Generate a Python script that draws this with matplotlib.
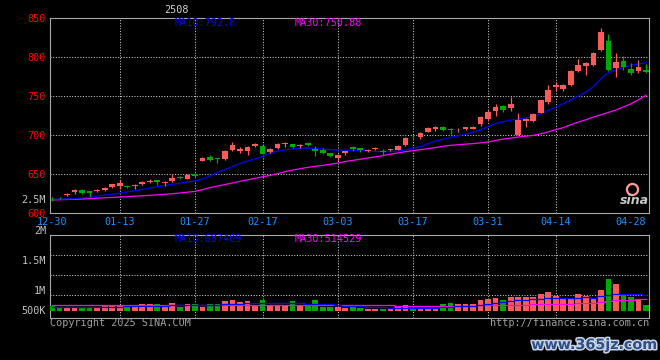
import matplotlib
matplotlib.use('Agg')
import matplotlib.pyplot as plt
import matplotlib.patheffects as pe
from matplotlib.lines import Line2D

# ---------------- data ----------------
opens = [618.0, 619.5, 623.0, 626.4, 629.8, 627.7, 627.7, 629.0, 633.7, 634.5,
         635.0, 634.1, 637.1, 639.7, 641.8, 638.4, 640.5, 646.5, 644.0, 649.5,
         667.1, 672.2, 670.9, 669.6, 681.2, 679.4, 679.4, 685.4, 686.3, 678.6,
         683.7, 688.0, 688.0, 685.9, 689.3, 682.4, 681.2, 676.5, 670.9, 676.5,
         685.0, 683.3, 679.0, 681.6, 679.9, 680.3, 681.2, 686.7, 697.8, 697.0,
         704.2, 707.2, 710.7, 707.7, 707.3, 707.3, 708.1, 713.7, 721.1, 731.3,
         737.5, 735.0, 700.3, 717.5, 718.0, 728.6, 742.7, 761.9, 758.5, 763.6,
         782.4, 788.0, 790.1, 809.3, 820.9, 786.3, 795.2, 784.5, 782.4, 783.0]
highs = [620.0, 620.9, 626.0, 630.3, 630.2, 628.6, 630.3, 632.8, 637.5, 641.8,
         635.5, 637.5, 640.5, 643.9, 641.8, 640.5, 649.5, 647.8, 650.0, 650.8,
         671.8, 674.7, 671.0, 680.3, 691.0, 684.6, 686.3, 689.3, 686.5, 683.0,
         689.7, 690.6, 688.8, 688.0, 689.7, 685.9, 682.9, 677.0, 676.0, 679.9,
         685.5, 683.7, 681.6, 684.2, 682.0, 682.0, 687.0, 697.5, 700.0, 703.4,
         710.7, 711.9, 711.5, 709.4, 708.5, 710.2, 712.0, 723.9, 732.0, 740.1,
         738.4, 748.6, 728.1, 721.7, 728.5, 745.5, 764.5, 767.5, 765.7, 783.0,
         797.4, 793.1, 806.8, 837.5, 829.9, 805.5, 801.6, 792.2, 795.7, 791.4]
lows = [615.0, 617.9, 621.7, 623.9, 624.8, 620.9, 626.9, 628.6, 632.0, 631.1,
        632.0, 631.1, 636.2, 638.8, 636.2, 635.0, 640.0, 644.0, 643.0, 645.7,
        666.2, 667.0, 664.1, 668.3, 679.0, 676.9, 674.3, 685.0, 675.5, 677.0,
        682.4, 684.6, 683.7, 683.3, 686.3, 673.5, 676.0, 672.0, 666.2, 674.7,
        679.9, 677.7, 678.0, 681.0, 674.8, 679.9, 680.5, 686.0, 694.0, 695.3,
        703.4, 705.1, 705.5, 700.8, 703.4, 707.0, 707.2, 711.1, 719.0, 725.0,
        729.8, 731.1, 700.0, 709.8, 716.5, 728.0, 740.1, 756.8, 756.8, 762.5,
        780.3, 777.3, 788.0, 807.6, 782.4, 773.9, 782.8, 776.4, 779.4, 780.0]
closes = [617.5, 618.8, 624.5, 629.0, 625.1, 625.6, 629.4, 632.4, 636.7, 638.8,
          633.3, 636.3, 639.7, 641.4, 639.3, 640.1, 645.2, 644.8, 649.1, 647.4,
          670.9, 667.5, 669.2, 679.0, 686.7, 682.0, 685.0, 688.8, 676.0, 682.4,
          688.0, 690.1, 684.1, 687.1, 686.7, 679.0, 676.9, 672.6, 674.7, 679.0,
          682.5, 681.2, 681.2, 683.7, 678.6, 681.6, 686.3, 696.6, 697.0, 703.0,
          709.4, 710.7, 706.0, 706.4, 708.1, 709.8, 710.7, 723.1, 729.8, 736.0,
          732.4, 740.1, 718.7, 720.4, 727.0, 745.2, 758.0, 764.5, 764.5, 782.4,
          790.1, 791.8, 805.5, 832.4, 783.7, 793.1, 786.7, 779.4, 786.7, 780.8]
ma10 = [618, 618, 618, 618.5, 619.5, 620.5, 621.7, 623, 624.3, 625.5,
        627, 628.5, 630.3, 632, 633.7, 635.2, 636.7, 638.2, 639.7, 641,
        643.5, 647.5, 652, 655.5, 659.5, 663.5, 666.5, 669.5, 672.5, 676.5,
        679.5, 681, 682.2, 683, 683.3, 683, 682, 681.3, 680.8, 680.5,
        680.3, 680, 679.5, 678.8, 678.6, 678.6, 679.5, 680.8, 683, 685,
        689, 692, 694.5, 697, 699, 701, 703.5, 706.5, 711, 714.5,
        717, 719, 720.5, 722, 723.5, 727, 731.5, 735.8, 740, 745,
        750, 755, 762, 772, 780, 783, 787, 789.5, 791, 792.8]
ma30 = [616.6, 617, 617.3, 617.6, 617.9, 618.4, 619, 619.5, 620, 620.5,
        621, 621.6, 622.1, 622.7, 623.3, 624, 624.7, 625.7, 626.7, 627.7,
        629.9, 632.5, 634.5, 636.5, 638.5, 640.6, 642.5, 644.4, 646.5, 648.2,
        650.5, 653, 655, 656.8, 658.5, 659.8, 661, 662.5, 664, 666,
        667.5, 669, 670.5, 672, 673.5, 675.5, 677, 678.6, 680, 681.2,
        682.5, 684, 685.5, 686.7, 687.6, 688.3, 689, 690, 691, 693,
        694.8, 696, 697.4, 698.5, 699.5, 701.5, 704, 706.8, 709.5, 713.2,
        716.5, 719.6, 723, 726, 729, 732, 736, 740, 745.2, 750.88]
volumes = [225, 105, 105, 105, 150, 105, 150, 195, 225, 255,
           150, 255, 300, 300, 300, 255, 345, 150, 300, 300,
           150, 300, 300, 435, 480, 390, 420, 255, 480, 255,
           255, 255, 435, 255, 255, 480, 180, 180, 180, 135,
           200, 135, 90, 90, 90, 90, 150, 255, 135, 135,
           90, 90, 315, 345, 315, 300, 300, 480, 540, 570,
           480, 615, 615, 615, 615, 750, 840, 660, 570, 570,
           750, 660, 570, 930, 1425, 1200, 750, 615, 510, 255]
vol_ma10 = [180, 180, 175, 170, 170, 165, 165, 170, 175, 185,
            190, 195, 205, 215, 225, 230, 240, 250, 255, 260,
            255, 265, 275, 290, 305, 315, 325, 330, 340, 345,
            340, 330, 330, 325, 320, 320, 300, 280, 265, 210,
            210, 200, 180, 160, 150, 135, 120, 120, 130, 135,
            135, 140, 160, 180, 190, 200, 220, 250, 290, 330,
            400, 440, 480, 500, 520, 540, 565, 570, 570, 570,
            585, 600, 580, 640, 700, 750, 745, 740, 735, 687.409]
vol_ma30 = [240, 240, 240, 240, 240, 240, 240, 240, 240, 240,
            235, 235, 235, 235, 235, 235, 235, 235, 235, 235,
            235, 240, 245, 250, 255, 260, 262, 265, 268, 270,
            270, 272, 273, 275, 275, 275, 272, 270, 265, 260,
            258, 255, 252, 250, 248, 245, 232, 215, 210, 205,
            200, 200, 200, 205, 210, 225, 232, 240, 250, 255,
            262, 268, 272, 276, 282, 290, 295, 300, 305, 315,
            340, 350, 360, 400, 430, 465, 480, 495, 505, 514.529]
tick_idx = [0, 9, 19, 28, 38, 48, 58, 67, 77]
tick_labels = ['12-30', '01-13', '01-27', '02-17', '03-03', '03-17', '03-31', '04-14', '04-28']
grid_idx = [9, 19, 28, 38, 48, 58, 67]
price_ticks = [600, 650, 700, 750, 800, 850]
vol_labels = ['2.5M', '2M', '1.5M', '1M', '500K']

# ---------------- style ----------------
W, H = 660, 360
MONO = 'DejaVu Sans Mono'
UP, DOWN = '#ff5a5a', '#00a800'
GRID = dict(color='#c8c8c8', linewidth=0.75, linestyle=(0, (1, 1.6)))
FRAME = '#a8a8a8'

fig = plt.figure(figsize=(W / 100, H / 100), dpi=100, facecolor='black')

def px_axes(left, top, right, bottom):
    return fig.add_axes([left / W, 1 - bottom / H, (right - left) / W, (bottom - top) / H])

def ftext(x, y, s, **kw):
    kw.setdefault('family', MONO)
    kw.setdefault('fontsize', 7.3)
    kw.setdefault('va', 'center')
    return fig.text(x / W, 1 - y / H, s, **kw)

xl = (-0.27, 79.4)
n = len(closes)
idx = list(range(n))
cols = [UP if c >= o else DOWN for o, c in zip(opens, closes)]

# ---------------- price panel ----------------
ax = px_axes(50, 18, 649, 213)
ax.set_facecolor('black')
ax.set_xlim(*xl)
ax.set_ylim(600, 850)
for p in price_ticks[1:-1]:
    ax.axhline(p, **GRID, zorder=1)
for g in grid_idx:
    ax.axvline(g, **GRID, zorder=1)
ax.plot(idx, ma30, color='#ff00ff', linewidth=0.9, zorder=2)
ax.plot(idx, ma10, color='#0000ff', linewidth=0.9, zorder=2)
ax.vlines(idx, lows, highs, colors=cols, linewidth=0.9, zorder=3)
bot = [min(o, c) for o, c in zip(opens, closes)]
hgt = [max(abs(c - o), 0.7) for o, c in zip(opens, closes)]
ax.bar(idx, hgt, bottom=bot, width=0.76, color=cols, linewidth=0, zorder=4)
ax.set_yticks(price_ticks)
ax.set_yticklabels([str(p) for p in price_ticks], family=MONO, fontsize=7.3, color='#ff0000')
ax.set_xticks(tick_idx)
ax.set_xticklabels(tick_labels, family=MONO, fontsize=7.3, color='#1e90ff')
ax.tick_params(length=0, pad=3)
for s in ax.spines.values():
    s.set_color(FRAME)
    s.set_linewidth(0.8)
ax.spines['bottom'].set_linestyle((0, (1, 1)))

# ---------------- volume panel ----------------
av = px_axes(50, 234.7, 649, 318.3)
av.set_facecolor('black')
av.set_xlim(*xl)
av.set_ylim(-342, 3420)
for fr in (0.275, 0.518, 0.757):
    av.plot([0, 1], [fr, fr], transform=av.transAxes, **GRID, zorder=1)
for g in grid_idx:
    av.axvline(g, **GRID, zorder=1)
av.bar(idx, volumes, width=0.76, color=cols, linewidth=0, zorder=3)
av.plot(idx, vol_ma30, color='#ff00ff', linewidth=0.9, drawstyle='steps-mid', zorder=4)
av.plot(idx, vol_ma10, color='#0000ff', linewidth=0.9, drawstyle='steps-mid', zorder=4)
av.set_xticks([])
av.set_yticks([])
for s in av.spines.values():
    s.set_color(FRAME)
    s.set_linewidth(0.8)

# ---------------- texts ----------------
ftext(176, 10, '2508', ha='center', color='#d0d0d0')
ftext(175, 23.5, 'MA10:792.8', color='#0000ff')
ftext(295, 23.5, 'MA30:750.88', color='#ff00ff')
ftext(175, 238.5, 'MA10:687409', color='#0000ff')
ftext(295, 238.5, 'MA30:514529', color='#ff00ff')
for lab, y in zip(vol_labels, [200, 231, 261, 291, 311]):
    ftext(46, y, lab, ha='right', color='#c0c0c0')
ftext(50, 323.5, 'Copyright 2025 SINA.COM', color='#a0a0a0')
ftext(649, 323.5, 'http://finance.sina.com.cn', ha='right', color='#a0a0a0')

# sina logo
fig.add_artist(Line2D([632 / W], [1 - 189 / H], marker='o', markersize=8,
                      mfc='none', mec='#ff9c9c', mew=1.6, transform=fig.transFigure))
ftext(634, 200, 'sina', ha='center', family='DejaVu Sans', fontsize=9,
      style='italic', weight='bold', color='#c8c8c8')

# watermark
ftext(594, 345, 'www.365jz.com', ha='center', family='DejaVu Sans', fontsize=10.3,
      weight='bold', color='#2d5089',
      path_effects=[pe.withStroke(linewidth=2.2, foreground='#c8d2e4')])

fig.savefig('out.png', dpi=100, facecolor='black')
